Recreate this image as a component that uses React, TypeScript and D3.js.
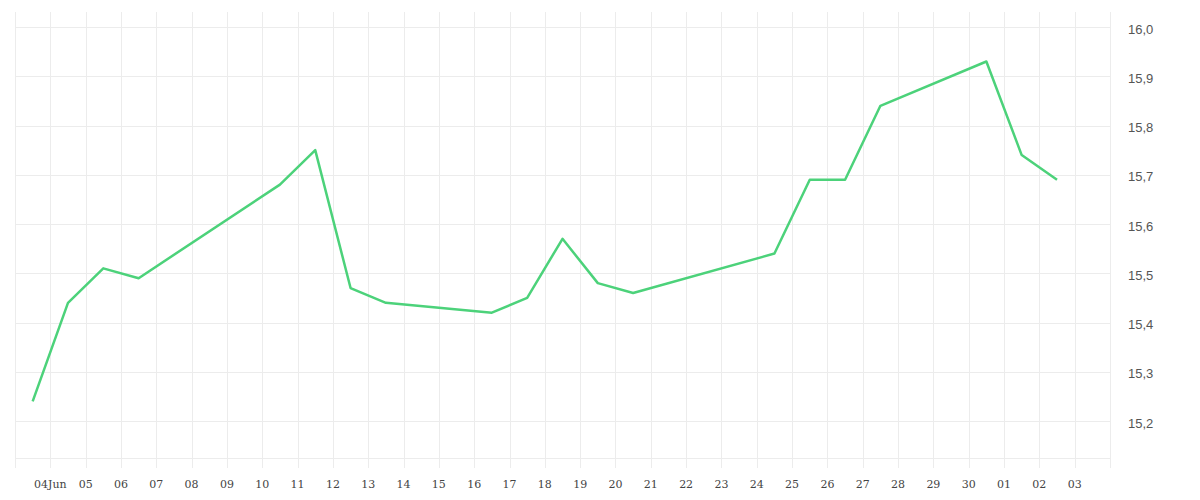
import React from "react";
import * as d3 from "d3";

const dates: string[] = [
  "2024-06-03", "2024-06-04", "2024-06-05", "2024-06-06",
  "2024-06-10", "2024-06-11", "2024-06-12", "2024-06-13",
  "2024-06-16", "2024-06-17", "2024-06-18", "2024-06-19", "2024-06-20",
  "2024-06-24", "2024-06-25", "2024-06-26", "2024-06-27",
  "2024-06-30", "2024-07-01", "2024-07-02",
];
const values: number[] = [
  15.24, 15.44, 15.51, 15.49,
  15.68, 15.75, 15.47, 15.44,
  15.42, 15.45, 15.57, 15.48, 15.46,
  15.54, 15.69, 15.69, 15.84,
  15.93, 15.74, 15.69,
];
const yTicks: number[] = [15.2, 15.3, 15.4, 15.5, 15.6, 15.7, 15.8, 15.9, 16.0];
const xStart = "2024-06-03";
const xEnd = "2024-07-04";
const yMin = 15.1249;
const yMax = 16.0305;

const W = 1200;
const H = 500;
const left = 15;
const right = 1110;
const top = 12;
const bottom = 458;

const parse = d3.utcParse("%Y-%m-%d");
const locale = d3.formatLocale({ decimal: ",", thousands: ".", grouping: [3], currency: ["", "€"] });
const fmt = locale.format(".1f");

export default function App() {
  const x = d3.scaleUtc().domain([parse(xStart)!, parse(xEnd)!]).range([left, right]);
  const y = d3.scaleLinear().domain([yMin, yMax]).range([bottom, top]);
  const days = d3.utcDay.range(parse(xStart)!, d3.utcDay.offset(parse(xEnd)!, 1));
  const labelDays = days.slice(1, -1);
  const pts = dates.map((d, i) => ({ t: d3.utcHour.offset(parse(d)!, 12), v: values[i] }));
  const line = d3.line<{ t: Date; v: number }>().x((d) => x(d.t)).y((d) => y(d.v));
  const dayLabel = (d: Date, i: number) => {
    const dd = d3.utcFormat("%d")(d);
    return i === 0 ? dd + d3.utcFormat("%b")(d) : dd;
  };
  return (
    <svg width={W} height={H} style={{ position: "absolute", left: 0, top: 0, background: "#fff" }}>
      <g>
        {[...yTicks, yMin].map((t, i) => (
          <line key={"h" + i} x1={left} x2={right} y1={Math.round(y(t)) + 0.5} y2={Math.round(y(t)) + 0.5} stroke="#ececec" strokeWidth={1} />
        ))}
        {days.map((d, i) => (
          <line key={"v" + i} x1={Math.round(x(d)) + 0.5} x2={Math.round(x(d)) + 0.5} y1={top} y2={bottom + 10} stroke="#ececec" strokeWidth={1} />
        ))}
      </g>
      <path d={line(pts) || ""} fill="none" stroke="#4cd27a" strokeWidth={2.5} strokeLinejoin="round" />
      <g fontFamily="'DejaVu Serif', serif" fontSize={11} fill="#444">
        {labelDays.map((d, i) => (
          <text key={"xl" + i} x={x(d)} y={488} textAnchor="middle">{dayLabel(d, i)}</text>
        ))}
      </g>
      <g fontFamily="'Liberation Sans', Arial, sans-serif" fontSize={13} fill="#555">
        {yTicks.map((t, i) => (
          <text key={"yl" + i} x={1128} y={y(t) + 6.5}>{fmt(t)}</text>
        ))}
      </g>
    </svg>
  );
}
